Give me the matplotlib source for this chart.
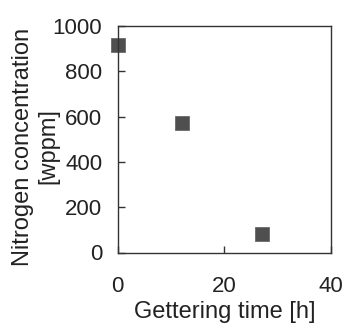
import matplotlib
matplotlib.use("Agg")
from matplotlib import pyplot as plt

time_h = [0, 12, 27]
nitrogen_wppm = [915, 570, 82]

plt.rcParams['font.family'] = ['Liberation Sans', 'DejaVu Sans']

fig = plt.figure(figsize=(3.45, 3.25), dpi=100)
ax = fig.add_axes([117.5 / 345, 1 - 252.5 / 325, 213.5 / 345, 226.5 / 325])

ax.plot(time_h, nitrogen_wppm, linestyle="none", marker="s", markersize=9.5,
        markerfacecolor="#4f4f4f", markeredgecolor="#6a6a6a", markeredgewidth=0.6,
        clip_on=False)

ax.set_xlim(0, 40)
ax.set_ylim(0, 1000)
ax.set_xticks([0, 20, 40])
ax.set_yticks([0, 200, 400, 600, 800, 1000])

for s in ax.spines.values():
    s.set_color("#333333")
    s.set_linewidth(1.0)

ax.tick_params(direction="in", length=5, width=1, colors="#333333",
               labelcolor="#222222", labelsize=16)
ax.tick_params(axis="x", pad=17)
ax.tick_params(axis="y", pad=11)

ax.set_xlabel("Gettering time [h]", fontsize=17, color="#222222", labelpad=3)
ax.set_ylabel("Nitrogen concentration\n[wppm]", fontsize=17, color="#222222",
              linespacing=1.2, ha="center", va="center")
ax.yaxis.set_label_coords(-0.385, 0.468)

fig.savefig("out.png", dpi=100)
